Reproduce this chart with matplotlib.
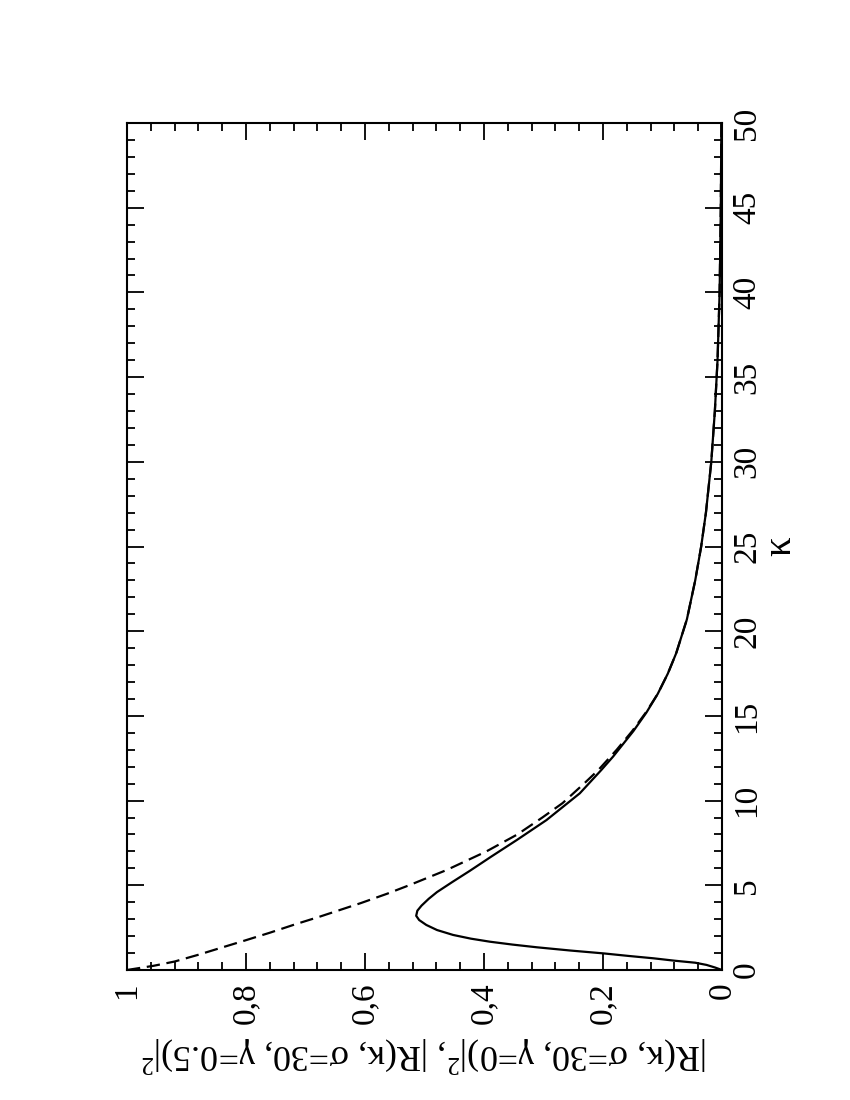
import matplotlib
matplotlib.use("Agg")
import matplotlib.pyplot as plt
from matplotlib.ticker import MultipleLocator, FixedLocator, FixedFormatter

plt.rcParams['font.family'] = ['Liberation Serif', 'DejaVu Serif']
plt.rcParams['mathtext.fontset'] = 'custom'
plt.rcParams['mathtext.rm'] = 'Liberation Serif'
plt.rcParams['mathtext.it'] = 'Liberation Serif:italic'

# gamma = 0 (dashed curve)
kappa_g0 = [0, 0.25, 0.5, 0.9, 1.3, 1.75, 2.2, 2.7, 3.15, 3.95, 4.5, 5.0,
            5.9, 7.0, 8.0, 9.0, 9.85, 11.0, 11.8, 13.0, 14.1, 15.2, 16.3,
            17.5, 18.7, 20.7, 23.0, 25.0, 27.0, 30.0, 33.0, 36.0, 40.0,
            45.0, 50.0]
r_g0 = [1.0, 0.955, 0.92, 0.88, 0.843, 0.801, 0.76, 0.717, 0.676, 0.607,
        0.563, 0.526, 0.463, 0.396, 0.344, 0.302, 0.268, 0.232, 0.208,
        0.177, 0.151, 0.128, 0.108, 0.091, 0.077, 0.059, 0.045, 0.035,
        0.027, 0.018, 0.012, 0.0075, 0.004, 0.002, 0.001]

# gamma = 0.5 (solid curve)
kappa_g05 = [0, 0.15, 0.3, 0.43, 0.55, 0.69, 0.83, 0.98, 1.15, 1.34, 1.5,
             1.67, 1.85, 2.07, 2.36, 2.66, 2.95, 3.2, 3.5, 3.8, 4.2, 4.6,
             5.2, 5.85, 6.69, 7.67, 8.85, 10.43, 11.8, 12.6, 14.1, 15.2,
             16.3, 17.5, 18.7, 20.7, 23.0, 25.0, 27.0, 30.0, 33.0, 36.0,
             40.0, 45.0, 50.0]
r_g05 = [0.0, 0.012, 0.026, 0.045, 0.08, 0.115, 0.157, 0.199, 0.255, 0.311,
         0.352, 0.39, 0.422, 0.452, 0.479, 0.497, 0.509, 0.514, 0.512,
         0.505, 0.493, 0.479, 0.453, 0.424, 0.388, 0.345, 0.295, 0.239,
         0.203, 0.183, 0.149, 0.127, 0.108, 0.091, 0.077, 0.059, 0.045,
         0.035, 0.027, 0.018, 0.012, 0.0075, 0.004, 0.002, 0.001]

r_ticks = [0, 0.2, 0.4, 0.6, 0.8, 1.0]
r_ticklabels = ["0", "0,2", "0,4", "0,6", "0,8", "1"]
kappa_ticks = [0, 5, 10, 15, 20, 25, 30, 35, 40, 45, 50]

fig = plt.figure(figsize=(8.5, 11), dpi=100)
# page is turned: kappa runs upward on the right, |R|^2 runs to the left
ax = fig.add_axes([127 / 850, 1 - 970 / 1100, 595 / 850, 847 / 1100])

ax.plot(r_g05, kappa_g05, color='black', lw=1.6)
ax.plot(r_g0, kappa_g0, color='black', lw=1.6, linestyle=(0, (6, 3)))

ax.set_xlim(1, 0)
ax.set_ylim(0, 50)

ax.xaxis.set_major_locator(FixedLocator(r_ticks))
ax.xaxis.set_major_formatter(FixedFormatter(r_ticklabels))
ax.xaxis.set_minor_locator(MultipleLocator(0.04))
ax.yaxis.set_major_locator(FixedLocator(kappa_ticks))
ax.yaxis.set_minor_locator(MultipleLocator(1))

ax.tick_params(which='both', direction='in', top=True, bottom=True,
               left=True, right=True, width=1.3, colors='black')
ax.tick_params(which='major', length=12)
ax.tick_params(which='minor', length=6)
ax.tick_params(axis='y', labelleft=False, labelright=True, pad=7,
               labelsize=24, labelrotation=90)
ax.tick_params(axis='x', pad=9, labelsize=24, labelrotation=90)
for lab in ax.get_xticklabels():
    lab.set_va('top')
    lab.set_ha('center')
for lab in ax.get_yticklabels():
    lab.set_ha('left')
    lab.set_va('center')

for sp in ax.spines.values():
    sp.set_linewidth(1.5)

ax.set_xlabel(r"|R(κ, σ=30, γ=0)|$^2$, |R(κ, σ=30, γ=0.5)|$^2$",
              fontsize=26, rotation=180, labelpad=6)
ax.yaxis.set_label_position('right')
ax.set_ylabel("κ", fontsize=28, rotation=90, labelpad=0)

fig.savefig('out.png', dpi=100)
